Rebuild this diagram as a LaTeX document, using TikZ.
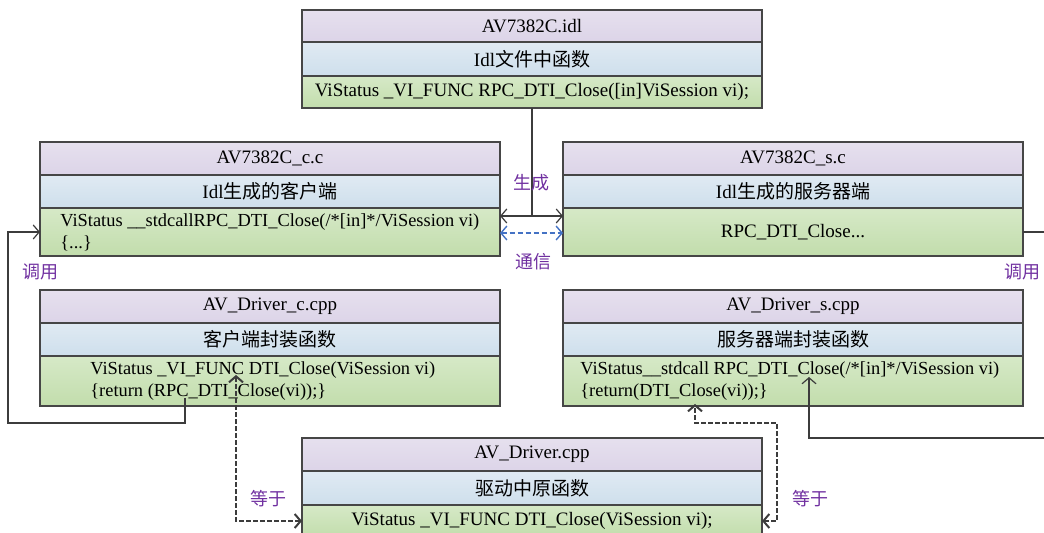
\documentclass[tikz,border=0pt]{standalone}
\usepackage{fontspec}
\setmainfont{Liberation Serif}
\newfontfamily\cjk{Noto Sans CJK SC}
\usetikzlibrary{arrows.meta,calc}

\definecolor{boxgray}{RGB}{70,70,70}
\definecolor{linegray}{RGB}{60,60,60}
\definecolor{purpletop}{RGB}{230,224,238}
\definecolor{purplebot}{RGB}{220,212,232}
\definecolor{bluetop}{RGB}{224,234,243}
\definecolor{bluebot}{RGB}{206,223,236}
\definecolor{greentop}{RGB}{214,233,199}
\definecolor{greenbot}{RGB}{194,221,172}
\definecolor{commblue}{RGB}{68,114,196}
\definecolor{tagpurple}{RGB}{112,48,160}

\begin{document}
\begin{tikzpicture}[
    x=0.5pt, y=-0.5pt,
    row/.style={rectangle, draw=boxgray, line width=0.8pt,
        minimum width=230pt, inner sep=0pt, outer sep=0pt, anchor=north,
        font=\fontsize{9.5}{11}\selectfont},
    namerow/.style={row, top color=purpletop, bottom color=purplebot,
        minimum height=16.5pt},
    descrow/.style={row, top color=bluetop, bottom color=bluebot,
        minimum height=16.5pt},
    coderow/.style={row, top color=greentop, bottom color=greenbot,
        minimum height=24pt},
    codetext/.style={anchor=west, align=left, inner sep=0pt,
        font=\fontsize{9.2}{11}\selectfont},
    link/.style={draw=linegray, line width=0.6pt},
    comm/.style={draw=commblue, line width=0.7pt,
        dash pattern=on 2.5pt off 1.5pt,
        {Straight Barb[length=3pt,width=7pt]}-{Straight Barb[length=3pt,width=7pt]}},
    equal/.style={draw=linegray, line width=1pt,
        dash pattern=on 2.2pt off 1.3pt,
        {Straight Barb[length=3pt,width=7pt]}-{Straight Barb[length=3pt,width=7pt]}},
    tag/.style={text=tagpurple, inner sep=1pt, font=\cjk\fontsize{9}{11}\selectfont}
]
    \useasboundingbox (0,0) rectangle (1044,533);
    \clip (0,0) rectangle (1044,533);

    % idl file
    \node[namerow, minimum height=16pt] (idlName) at (532,10) {AV7382C.idl};
    \node[descrow, minimum height=17pt] (idlDesc) at (idlName.south) {Idl{\cjk 文件中函数}};
    \node[coderow, minimum height=16pt] (idlCode) at (idlDesc.south)
        {ViStatus \_VI\_FUNC RPC\_DTI\_Close([in]ViSession vi);};

    % generated client / server
    \node[namerow] (ccName) at (270,142) {AV7382C\_c.c};
    \node[descrow] (ccDesc) at (ccName.south) {Idl{\cjk 生成的客户端}};
    \node[coderow] (ccCode) at (ccDesc.south) {};
    \node[codetext] (ccText) at ([xshift=10pt]ccCode.west)
        {ViStatus \_\_stdcallRPC\_DTI\_Close(/*[in]*/ViSession vi)\\\{...\}};

    \node[namerow] (scName) at (793,142) {AV7382C\_s.c};
    \node[descrow] (scDesc) at (scName.south) {Idl{\cjk 生成的服务器端}};
    \node[coderow] (scCode) at (scDesc.south) {RPC\_DTI\_Close...};

    % wrappers
    \node[namerow] (ccppName) at (270,290) {AV\_Driver\_c.cpp};
    \node[descrow] (ccppDesc) at (ccppName.south) {\cjk 客户端封装函数};
    \node[coderow, minimum height=25pt] (ccppCode) at (ccppDesc.south) {};
    \node[codetext] (ccppText) at ([xshift=25pt]ccppCode.west)
        {ViStatus \_VI\_FUNC DTI\_Close(ViSession vi)\\\{return (RPC\_DTI\_Close(vi));\}};

    \node[namerow] (scppName) at (793,290) {AV\_Driver\_s.cpp};
    \node[descrow] (scppDesc) at (scppName.south) {\cjk 服务器端封装函数};
    \node[coderow, minimum height=25pt] (scppCode) at (scppDesc.south) {};
    \node[codetext] (scppText) at ([xshift=8.5pt]scppCode.west)
        {ViStatus\_\_stdcall RPC\_DTI\_Close(/*[in]*/ViSession vi)\\\{return(DTI\_Close(vi));\}};

    % driver
    \node[namerow] (drvName) at (532,438) {AV\_Driver.cpp};
    \node[descrow, minimum height=17pt] (drvDesc) at (drvName.south) {\cjk 驱动中原函数};
    \node[coderow, minimum height=16pt] (drvCode) at (drvDesc.south)
        {ViStatus \_VI\_FUNC DTI\_Close(ViSession vi);};

    % connectors
    \coordinate (gen) at ($(idlCode.south |- ccCode.north)+(0,8)$);
    \draw[link] (idlCode.south) -- (gen);
    \draw[link, {Straight Barb[length=3pt,width=7pt]}-{Straight Barb[length=3pt,width=7pt]}]
        (ccCode.east |- gen) -- (scCode.west |- gen);
    \draw[comm] ($(ccCode.east)+(0,1)$) -- ($(scCode.west)+(0,1)$);

    \coordinate (callL) at (8,423);
    \draw[link, -{Straight Barb[length=3pt,width=7pt]}]
        ($(ccppCode.south)+(-85,-8)$) |- (callL) |- (ccCode.west);
    \coordinate (callR) at (1064,438);
    \draw[link, -{Straight Barb[length=3pt,width=7pt]}]
        (scCode.east) -| (callR) -| ($(scppCode.south)+(16,-29)$);

    \draw[equal] ($(ccppCode.south)+(-34,-31)$) |- (drvCode.west);
    \coordinate (eqR) at (777,423);
    \draw[equal] (drvCode.east) -| (eqR) -| ($(scppCode.south)+(-98,-2)$);

    % labels
    \node[tag] (genTag) at (531,183) {生成};
    \node[tag] (commTag) at (533,262) {通信};
    \node[tag] (callTagL) at (40,272) {调用};
    \node[tag] (callTagR) at (1022,272) {调用};
    \node[tag] (eqTagL) at (268,499) {等于};
    \node[tag] (eqTagR) at (810,499) {等于};
\end{tikzpicture}
\end{document}
